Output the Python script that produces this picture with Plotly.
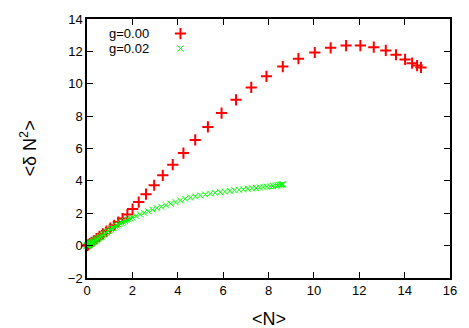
import plotly.graph_objects as go

# g=0.00 series (red plus markers)
n_g000 = [0.0, 0.05, 0.12, 0.2, 0.3, 0.42, 0.55, 0.7, 0.86, 1.03, 1.2, 1.38, 1.57, 1.78,
          2.01, 2.28, 2.6, 2.96, 3.34, 3.78, 4.25, 4.77, 5.33, 5.93, 6.57, 7.24, 7.91,
          8.63, 9.32, 10.04, 10.74, 11.42, 12.05, 12.64, 13.17, 13.62, 14.02, 14.33,
          14.55, 14.72]
var_g000 = [0.0, 0.05, 0.12, 0.2, 0.3, 0.43, 0.57, 0.73, 0.9, 1.08, 1.26, 1.46, 1.67, 1.92,
            2.26, 2.69, 3.18, 3.73, 4.34, 5.0, 5.72, 6.53, 7.33, 8.19, 9.01, 9.77, 10.46,
            11.06, 11.55, 11.93, 12.22, 12.36, 12.36, 12.26, 12.06, 11.79, 11.5, 11.27,
            11.12, 11.01]

# g=0.02 series (green x markers)
n_g002 = [0.0, 0.005, 0.01, 0.015, 0.02, 0.03, 0.04, 0.05, 0.06, 0.075, 0.09, 0.105, 0.12,
          0.14, 0.16, 0.18, 0.2, 0.22, 0.25, 0.27, 0.3, 0.33, 0.36, 0.39, 0.42, 0.46, 0.5,
          0.54, 0.58, 0.62, 0.67, 0.72, 0.77, 0.82, 0.88, 0.94, 1.0, 1.06, 1.12, 1.18,
          1.25, 1.32, 1.39, 1.46, 1.53, 1.6, 1.68, 1.76, 1.84, 1.92, 2.0, 2.17,
          2.34, 2.52, 2.7, 2.89, 3.08, 3.28, 3.48, 3.69, 3.9, 4.11, 4.33, 4.55, 4.77,
          4.99, 5.21, 5.43, 5.65, 5.87, 6.08, 6.29, 6.5, 6.7, 6.9, 7.09, 7.27, 7.45,
          7.62, 7.78, 7.93, 8.07, 8.2, 8.31, 8.4, 8.48, 8.54, 8.59, 8.62, 8.64]
var_g002 = [0.0, 0.0, 0.01, 0.01, 0.02, 0.02, 0.03, 0.04, 0.05, 0.06, 0.07, 0.08, 0.1,
            0.11, 0.13, 0.15, 0.17, 0.18, 0.21, 0.23, 0.25, 0.28, 0.31, 0.33, 0.36, 0.4, 0.44,
            0.48, 0.52, 0.56, 0.61, 0.66, 0.72, 0.78, 0.84, 0.9, 0.97, 1.02, 1.07, 1.12,
            1.18, 1.24, 1.3, 1.36, 1.41, 1.46, 1.52, 1.57, 1.62, 1.68, 1.73, 1.83,
            1.93, 2.03, 2.12, 2.22, 2.31, 2.4, 2.49, 2.59, 2.69, 2.79, 2.89, 2.97, 3.04,
            3.1, 3.16, 3.21, 3.26, 3.3, 3.34, 3.38, 3.42, 3.45, 3.48, 3.51, 3.54, 3.56,
            3.59, 3.62, 3.64, 3.66, 3.68, 3.7, 3.72, 3.74, 3.75, 3.77, 3.78, 3.79]

series_names = ["g=0.00", "g=0.02"]
x_ticks = [0, 2, 4, 6, 8, 10, 12, 14, 16]
y_ticks = [-2, 0, 2, 4, 6, 8, 10, 12, 14]

RED = "#ff0000"
GREEN = "#00ff00"
FONT = "Liberation Sans, Arial, sans-serif"

red_marker = dict(symbol="cross-thin", size=8, color=RED, line=dict(color=RED, width=2))
green_marker = dict(symbol="x-thin", size=6, color=GREEN, line=dict(color=GREEN, width=1))

fig = go.Figure()
fig.add_trace(go.Scatter(x=n_g000, y=var_g000, mode="markers", marker=red_marker,
                         name=series_names[0], cliponaxis=False))
fig.add_trace(go.Scatter(x=n_g002, y=var_g002, mode="markers", marker=green_marker,
                         name=series_names[1], cliponaxis=False))

# gnuplot-style key: text first, sample to the right (on a hidden overlay axis)
fig.add_trace(go.Scatter(x=[0.2575], y=[0.9436], mode="markers", marker=red_marker,
                         xaxis="x2", yaxis="y2", hoverinfo="skip"))
fig.add_trace(go.Scatter(x=[0.2575], y=[0.886], mode="markers", marker=green_marker,
                         xaxis="x2", yaxis="y2", hoverinfo="skip"))

axis_common = dict(
    showline=True, linecolor="black", linewidth=1.5, mirror="ticks",
    ticks="inside", ticklen=6, tickwidth=1.2, tickcolor="black",
    showgrid=False, zeroline=False,
    tickfont=dict(family=FONT, size=13, color="black"),
)

fig.update_layout(
    width=469, height=328,
    margin=dict(l=87, r=17, t=17, b=50),
    paper_bgcolor="white", plot_bgcolor="white",
    showlegend=False,
    font=dict(family=FONT, color="black"),
    xaxis=dict(range=[0, 16], tickvals=x_ticks, **axis_common),
    yaxis=dict(range=[-2, 14], tickvals=y_ticks, **axis_common),
    xaxis2=dict(range=[0, 1], overlaying="x", visible=False),
    yaxis2=dict(range=[0, 1], overlaying="y", visible=False),
    annotations=[
        dict(text=series_names[0], xref="paper", yref="paper", x=0.175, y=0.9436,
             xanchor="right", yanchor="middle", showarrow=False, font=dict(size=13)),
        dict(text=series_names[1], xref="paper", yref="paper", x=0.175, y=0.886,
             xanchor="right", yanchor="middle", showarrow=False, font=dict(size=13)),
        dict(text="&lt;N&gt;", xref="paper", yref="paper", x=0.5, y=-0.158,
             xanchor="center", yanchor="middle", showarrow=False, font=dict(size=18)),
        dict(text="&lt;δ N<sup>2</sup>&gt;", xref="paper", yref="paper", x=-0.16, y=0.5,
             xanchor="center", yanchor="middle", textangle=-90, showarrow=False,
             font=dict(size=18)),
    ],
)

fig.write_html("out.html", config={"displayModeBar": False},
               post_script="document.body.style.margin='0';")
